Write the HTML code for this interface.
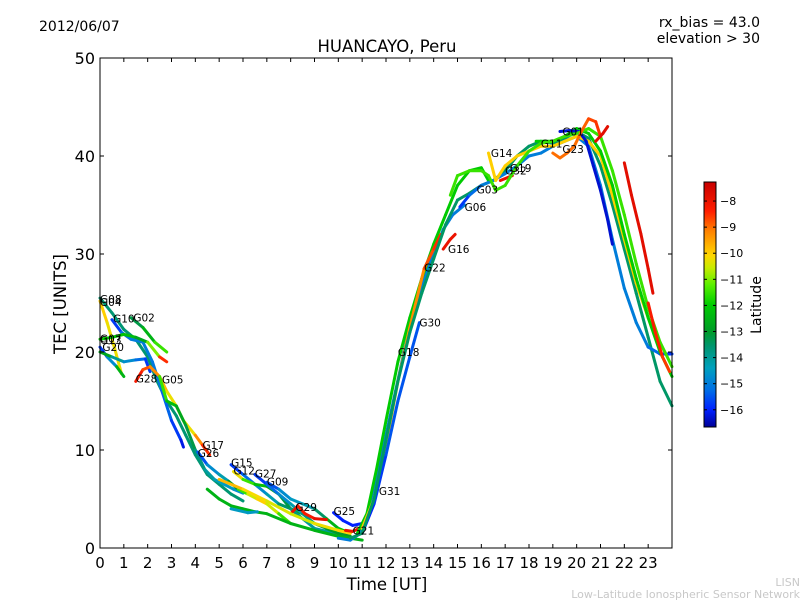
<!DOCTYPE html>
<html><head><meta charset="utf-8"><style>
body{margin:0;background:#fff;}
svg{display:block;font-family:"DejaVu Sans","Liberation Sans",sans-serif;}
</style></head><body>
<svg id="c" width="800" height="600" viewBox="0 0 800 600">
<defs><linearGradient id="jet" x1="0" y1="1" x2="0" y2="0"></linearGradient></defs>
<text x="39" y="31" font-size="14">2012/06/07</text>
<text x="760" y="27" font-size="14" text-anchor="end">rx_bias = 43.0</text>
<text x="760" y="43" font-size="14" text-anchor="end">elevation &gt; 30</text>
<text x="387" y="52" font-size="16.5" text-anchor="middle">HUANCAYO, Peru</text>
<text x="387" y="590" font-size="16.5" text-anchor="middle">Time [UT]</text>
<text transform="translate(66,304) rotate(-90)" font-size="16.5" text-anchor="middle">TEC [UNITS]</text>
<g id="tracks"></g>
<g id="labels"></g>
<rect x="100" y="58" width="572" height="490" fill="none" stroke="#000" stroke-width="1"/>
<g id="xaxis"></g>
<g id="yaxis"></g>
<rect id="cbrect" x="704" y="182" width="12" height="245" fill="url(#jet)" stroke="#000" stroke-width="1"/>
<g id="cbar"></g>
<text transform="translate(761,305) rotate(-90)" font-size="14" text-anchor="middle">Latitude</text>
<text x="800" y="586" font-size="11" fill="#c8c8c8" text-anchor="end">LISN</text>
<text x="800" y="598" font-size="11" fill="#c8c8c8" text-anchor="end">Low-Latitude Ionospheric Sensor Network</text>
</svg>
<script>
const xTicks=[0,1,2,3,4,5,6,7,8,9,10,11,12,13,14,15,16,17,18,19,20,21,22,23];
const yTicks=[0,10,20,30,40,50];
const cbTicks=[-8,-9,-10,-11,-12,-13,-14,-15,-16];
const trackTimes=[
[0,0.3,0.6,0.9],
[0,0.5,1,1.5,2,2.4,2.8,3.2,3.6,4,4.5,5,5.5,6],
[0.5,0.9,1.3,1.8,2.2,2.6,3,3.4,3.5],
[1.3,1.8,2.3,2.8],
[0,0.5,1,1.5,2,2.5,2.8],
[0,0.3,0.7,1],
[0,0.5,1,1.5,1.9,2.1],
[1.5,1.8,2.1,2.5,2.8,3.2,3.5,4,4.3,4.6],
[2.5,2.8,3.2,3.6,4,4.4,4.8,5.2,5.6,6],
[4.1,4.5,5,5.4,5.8,6.2,6.6,7,7.5,8],
[5.5,6,6.5,7,7.5,8,8.5],
[5.6,6,6.5,7,7.5,8,8.5,9,9.5,10],
[6.5,7,7.5,8,8.5,9,9.5,10,10.5],
[7,7.5,8,8.5,9,9.5,10,10.5],
[8,8.3,8.6,9,9.5],
[5,6,7,8,9,10,10.5],
[4.5,5,5.5,6,6.5,7,8,9,10,11],
[9.8,10.2,10.6,11],
[10.3,10.6,10.9],
[5.5,6.2,6.6],
[10,10.5,10.8,11.2,11.6,12,12.4,12.8,13.2,13.6,14,14.4,14.8,15.3],
[10.8,11.2,11.6,12,12.5,13,13.5,14,14.5,15,15.5,16,16.3],
[11,11.5,12,12.5,13,13.6,14,14.3],
[11,11.5,12,12.5,13,13.4],
[10.5,11,11.5,12,12.5,13,13.5,14,14.5,15,15.5,16,16.5,17,17.5,18,18.5,19,19.5,20,20.5,21,21.5,22,22.5,23,23.5,24],
[14.4,14.7,14.9],
[15.1,15.5,16,16.5,17,17.5,18,18.5,19,19.5,20,20.5,21,21.5,22,22.5,23,23.5,24],
[16.3,16.6,17,17.5,18,18.5,19,19.5,20,20.5,21,21.5,22,22.5,23,23.5],
[16.8,17.3],
[18.3,19,19.5,20,20.5,21,21.5,22,22.5,23,23.5,24],
[19.3,19.7,20.1,20.4,20.7,21,21.3,21.5],
[14.7,15,15.5,16,16.3,16.6,17,17.5,18,18.5,19,19.5,20,20.5,21,21.5,22,22.5,23,23.5,24],
[19,19.3,19.6,19.9,20.2,20.5,20.8,21],
[20.8,21.1,21.3],
[22,22.3,22.7,23,23.2],
[23,23.3,23.6,23.9]
];
const trackTec=[
[25.2,23,20.5,17.8],
[25.5,24,22.3,21.3,19.5,17,15,13.5,11.5,9.5,7.5,6.5,5.5,4.8],
[23.3,22,21.3,21,19,16,13,11,10.3],
[23.5,22.5,21,20],
[21.3,21.5,21.8,21.5,21,19.5,19],
[20.5,19.5,18.5,17.5],
[20,19.5,19,19.2,19.3,18],
[17,18.2,18.5,17.5,16,14.5,13,11.5,10.5,9.5],
[17.5,15,14.5,12.5,10,8,7,6.5,6,5.6],
[9.8,8.5,7.5,6.8,6,5.5,5,4.5,3.5,2.5],
[8.5,7.5,6.5,5.5,4.5,4,3.5],
[7.8,7,6.5,6.3,5.5,4,3,2,1.7,1.5],
[7.5,6.5,5.5,4.5,3.5,2.5,2,1.5,1.2],
[6.7,6,5,4.5,4,3,2,1.5],
[3.5,4.3,3.5,3,2.9],
[7,6,4.8,3.5,2.5,1.8,1.5],
[6,5,4.3,4,3.7,3.5,2.5,1.8,1.2,0.8],
[3.6,2.8,2.3,2.5],
[1.8,1.7,2.0],
[4,3.6,3.7],
[1,0.8,1.3,3,7,11.5,16,20.5,24.5,27.5,30,32.5,34,35],
[1.5,3.5,8,13,19,23.5,27.5,31,34,37,38.5,38.8,37.5],
[2,5,10.5,17,22.5,28.5,30.5,32],
[1.5,4.5,9.5,15,19.5,23],
[1,1.5,5,11,17,22,26,29.5,33,35.5,36.2,37,37.5,38.5,40,41,41.5,41.3,41.8,42.5,41.8,39,35,30.5,26,21.5,17,14.5],
[30.5,31.5,32],
[34.8,36,37,37.5,38.2,39,40,40.3,41,41.5,42,41,37,31.5,26.5,23,20.5,19.8,19.8],
[40.3,37.5,39,40,40.5,41,41,41.5,42,41.5,40,36,31.5,27,23.5,20.5],
[37.5,38],
[41.5,41.5,42,42.8,42.3,40.5,37,32,27.5,23.5,20,17.5],
[42.5,42.6,42.5,41.5,39,36.5,33.5,31],
[36,38,38.5,38.5,38,36.5,37,39,40.5,41.3,41.5,42,42.3,42.8,42,38.5,34,29,24.5,21,18.5],
[40.3,39.8,40.3,41,42.5,43.8,43.5,42],
[41.5,42.3,43],
[39.3,36,32,28.5,26],
[25,22,19.5,18]
];
const trackLat=[
[-10,-10,-10.5,-10],
[-13.6,-13.6,-13.6,-13.6,-13.6,-13.6,-13.6,-13.6,-13.6,-13.6,-13.6,-13.6,-13.6,-13.6],
[-16,-15.5,-15,-15,-15,-15.2,-15.5,-16,-16.3],
[-13.5,-13,-12,-11],
[-12,-12,-12,-12.5,-13,-9,-8],
[-16,-15.5,-14,-11],
[-12,-13.5,-14.5,-15,-15.5,-16],
[-8,-8.5,-9,-9.5,-10,-10.5,-11,-9.5,-9,-8],
[-11,-12,-12.5,-13,-13.5,-14,-14.2,-14.5,-14.5,-14.8],
[-16,-15,-14.5,-14,-12,-11,-10,-10,-11,-12],
[-16,-15.5,-15,-14.5,-14,-13,-12],
[-9.5,-11,-12,-12.5,-13,-13.5,-14,-14,-14,-14],
[-16,-15.5,-15,-14.5,-14,-13.5,-13,-13,-13],
[-16,-15,-14.5,-14.5,-14,-13,-12,-12],
[-8,-8,-8.5,-8,-7.8],
[-9.5,-10,-10.3,-10.5,-10.5,-10,-10],
[-12.5,-12.5,-12.5,-12.5,-12.5,-12.5,-12.5,-12.5,-12.5,-12.5],
[-16,-16,-16,-16],
[-8,-8,-8],
[-14.5,-14.5,-14.5],
[-15,-15,-15,-15,-15,-15,-15,-15,-15,-15,-15,-15,-15,-15],
[-12,-12,-12,-12,-12,-12,-12,-12,-12,-12,-12,-12,-12],
[-10,-10,-10,-9.5,-9.5,-9,-8.5,-8.5],
[-16,-16,-15.5,-15.5,-15.5,-15.5],
[-13.5,-13.5,-13.5,-13.5,-13.5,-13.5,-13.5,-13.5,-13.5,-13.5,-13.5,-13.5,-13.5,-13.5,-13.5,-13.5,-13.5,-13.5,-13.5,-13.5,-13.5,-13.5,-13.5,-13.5,-13.5,-13.5,-13.5,-13.5],
[-8,-8,-8],
[-16,-15.5,-15,-15,-15,-15,-15,-15,-15,-15,-15,-15,-15,-15,-15,-15,-15,-15.5,-16],
[-10,-10,-10,-10,-10,-10,-10,-10,-10,-10,-10,-10,-10,-10,-10,-10],
[-8,-8],
[-12,-12,-12,-12,-12,-12,-12,-12,-12,-12,-12,-12],
[-16.3,-16.3,-16.3,-16.3,-16.3,-16.3,-16.3,-16.3],
[-11.5,-11.5,-11.5,-11.5,-11.5,-11.5,-11.5,-11.5,-11.5,-11.5,-11.5,-11.5,-11.5,-11.5,-11.5,-11.5,-11.5,-11.5,-11.5,-11.5,-11.5],
[-9,-9,-9,-9,-9,-8.8,-8.6,-8.5],
[-7.8,-7.8,-7.8],
[-7.8,-7.8,-7.8,-7.8,-7.8],
[-8.3,-8.3,-8.5,-8.7]
];
const satNames=["G08","G04","G10","G02","G07","G13","G20","G28","G05","G17","G26","G15","G12","G27","G09","G29","G25","G21","G31","G18","G30","G22","G16","G06","G03","G14","G32","G19","G11","G01","G23"];
const satTimes=[0,0,0.55,1.4,0,0,0.1,1.5,2.6,4.3,4.1,5.5,5.6,6.5,7.0,8.2,9.8,10.6,11.7,12.5,13.4,13.6,14.6,15.3,15.8,16.4,17.0,17.2,18.5,19.4,19.4];
const satTec=[25.4,25.1,23.4,23.5,21.4,21.2,20.5,17.3,17.2,10.5,9.7,8.7,7.9,7.6,6.8,4.2,3.8,1.8,5.8,20,23,28.6,30.5,34.8,36.6,40.3,38.5,38.8,41.3,42.5,40.7];

const X0=100,X1=672,Y0=548,Y1=58;
function xs(t){return X0+t*(X1-X0)/24;}
function ys(v){return Y0-v*(Y0-Y1)/50;}
function latY(l){return 182+(-7.27-l)*(427-182)/(16.66-7.27);}
const cmap=[[0,[0,0,150]],[0.07,[0,32,255]],[0.15,[0,110,230]],[0.24,[0,160,190]],[0.33,[0,150,110]],[0.39,[0,155,40]],[0.5,[0,205,0]],[0.58,[90,240,0]],[0.65,[200,235,0]],[0.7,[255,215,0]],[0.8,[255,130,0]],[0.88,[255,30,0]],[1,[200,0,0]]];
function cm(v){v=Math.max(0,Math.min(1,v));
 for(let i=0;i<cmap.length-1;i++){const a=cmap[i],b=cmap[i+1];if(v<=b[0]){const f=(v-a[0])/(b[0]-a[0]);
  const c=a[1].map((x,k)=>Math.round(x+(b[1][k]-x)*f));return `rgb(${c[0]},${c[1]},${c[2]})`;}}
 return 'rgb(200,0,0)';}
function latColor(l){return cm((l+16.66)/(16.66-7.27));}
const NS="http://www.w3.org/2000/svg";
function mk(tag,attrs,parent){const e=document.createElementNS(NS,tag);for(const k in attrs)e.setAttribute(k,attrs[k]);parent.appendChild(e);return e;}
const grad=document.getElementById('jet');
cmap.forEach(s=>{mk('stop',{offset:s[0],'stop-color':`rgb(${s[1].join(',')})`},grad);});

const tg=document.getElementById('tracks');
trackTimes.forEach((ts,i)=>{
 const g=mk('g',{},tg);
 
 
 for(let j=0;j<ts.length-1;j++){
  const l=(trackLat[i][j]+trackLat[i][j+1])/2;
  const seg=mk('line',{x1:xs(ts[j]),y1:ys(trackTec[i][j]),x2:xs(ts[j+1]),y2:ys(trackTec[i][j+1]),stroke:latColor(l),'stroke-width':3,'stroke-linecap':'round'},g);
  
  
 }
});
const lg=document.getElementById('labels');
satNames.forEach((n,i)=>{
 const t=mk('text',{x:xs(satTimes[i]),y:ys(satTec[i])+4,'font-size':10.5},lg);
 t.textContent=n;
 
 
});
const xg=document.getElementById('xaxis');
xTicks.forEach(v=>{
 const x=xs(v);
 const a=mk('line',{x1:x,y1:Y0,x2:x,y2:Y0-4,stroke:'#000'},xg);
 
 
 mk('line',{x1:x,y1:Y1,x2:x,y2:Y1+4,stroke:'#000'},xg);
 const t=mk('text',{x:x,y:568,'font-size':15,'text-anchor':'middle'},xg);
 t.textContent=v;
 
 
});
const yg=document.getElementById('yaxis');
yTicks.forEach(v=>{
 const y=ys(v);
 const a=mk('line',{x1:X0,y1:y,x2:X0+4,y2:y,stroke:'#000'},yg);
 
 
 mk('line',{x1:X1,y1:y,x2:X1-4,y2:y,stroke:'#000'},yg);
 const t=mk('text',{x:95,y:y+6,'font-size':16,'text-anchor':'end'},yg);
 t.textContent=v;
 
 
});
const cg=document.getElementById('cbar');
cbTicks.forEach(v=>{
 const y=latY(v);
 mk('line',{x1:704,y1:y,x2:707,y2:y,stroke:'#000'},cg);
 mk('line',{x1:716,y1:y,x2:713,y2:y,stroke:'#000'},cg);
 const t=mk('text',{x:720,y:y+4,'font-size':11},cg);
 t.textContent='\u2212'+Math.abs(v);
 
 
});
</script>
</body></html>
